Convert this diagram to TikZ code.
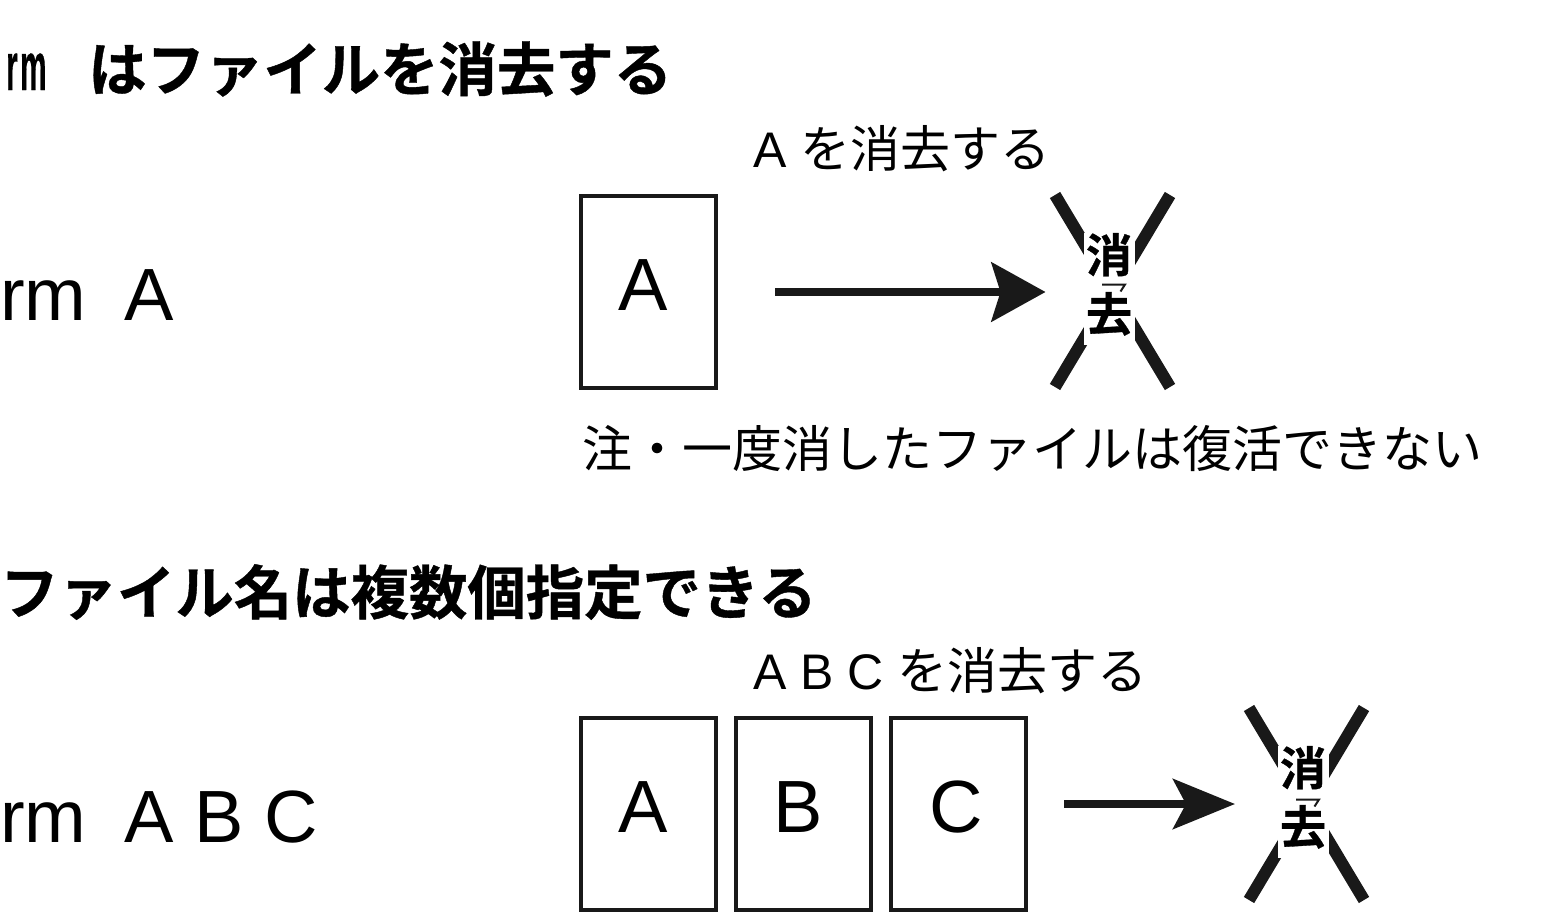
\documentclass[tikz,border=0pt]{standalone}
\usepackage{graphicx}
\usepackage{fontspec}
\setmainfont{Liberation Sans}
\newfontfamily\cjk{Noto Sans CJK JP}
\newfontfamily\cjkb{Noto Sans CJK JP Bold}[FakeBold=0.7]
\newfontfamily\rmbold{Liberation Sans Bold}[FakeBold=0.4]
\usetikzlibrary{arrows.meta}
\usetikzlibrary{positioning}
\begin{document}
\begin{tikzpicture}[x=1pt,y=-1pt,
	filebox/.style={draw=black!90, line width=4pt, minimum width=135pt, minimum height=192pt, inner sep=0pt},
	filetext/.style={inner sep=0pt, font=\fontsize{74}{74}\selectfont},
	cmdtext/.style={anchor=west, inner sep=0pt, font=\fontsize{74}{74}\selectfont},
	head/.style={anchor=west, inner sep=0pt, font=\cjkb\fontsize{58.4}{59}\selectfont},
	note/.style={anchor=west, inner sep=0pt, font=\cjk\fontsize{50}{50}\selectfont},
	xbar/.style={draw=black!90, line width=12pt},
	xlabel/.style={inner sep=0pt, fill=white, minimum width=51pt, minimum height=108pt, font=\cjkb\fontsize{46}{46}\selectfont},
	xmark/.style={draw=black!90, line width=2pt},
	myarrow/.style={draw=black!90, line width=8pt, -{Stealth[length=54pt,width=59pt,inset=9pt]}},
	myarrowb/.style={draw=black!90, line width=8pt, -{Stealth[length=62pt,width=50pt,inset=13pt]}}]
	\useasboundingbox (0,0) rectangle (1545,913);
	\node[anchor=base west, inner sep=0pt] (title1cmd) at (6,90) {\scalebox{.44}[1]{\rmbold\fontsize{68}{68}\selectfont r\hspace{5pt}m}};
	\node[head] (title1) at (88,69) {はファイルを消去する};
	\node[cmdtext] (cmd1) at (0,295) {rm\hspace{38pt}A};
	\node[filebox] (a1) at (648.5,291.5) {};
	\node[filetext] (a1text) at (643,285) {A};
	\node[note] (msg1) at (753,149) {{\rmfamily A}\hspace{3pt} を消去する};
	\node[note] (warn) at (582,449) {注・一度消したファイルは復活できない};
	\coordinate (from1) at (775,292);
	\coordinate (to1) at (1045.5,292);
	\draw[myarrow] (from1) -- (to1);
	\coordinate (p1) at (1055,195);
	\coordinate (p2) at (1170,195);
	\coordinate (p3) at (1055,387);
	\coordinate (p4) at (1170,387);
	\draw[xbar] (p1) -- (p4);
	\draw[xbar] (p2) -- (p3);
	\node[xlabel] (del1) at (1109,289) {\begin{tabular}{@{}c@{}}消\\[6pt]去\end{tabular}};
	\draw[xmark] (1102,284.5) -- (1125,284.5) -- (1120.5,291.5);
	\node[head] (title2) at (0,592) {ファイル名は複数個指定できる};
	\node[cmdtext] (cmd2) at (0,817) {rm\hspace{38pt}A B C};
	\node[filebox] (a2) at (648.5,813.5) {};
	\node[filebox] (b2) at (803.5,813.5) {};
	\node[filebox] (c2) at (958.5,813.5) {};
	\node[filetext] (a2text) at (643,807) {A};
	\node[filetext] (b2text) at (798,807) {B};
	\node[filetext] (c2text) at (956,807) {C};
	\node[note] (msg2) at (753,671) {{\rmfamily A B C}\hspace{3pt} を消去する};
	\coordinate (from2) at (1064,804);
	\coordinate (to2) at (1235,804);
	\draw[myarrowb] (from2) -- (to2);
	\coordinate (q1) at (1249,708);
	\coordinate (q2) at (1364,708);
	\coordinate (q3) at (1249,900);
	\coordinate (q4) at (1364,900);
	\draw[xbar] (q1) -- (q4);
	\draw[xbar] (q2) -- (q3);
	\node[xlabel] (del2) at (1303,802) {\begin{tabular}{@{}c@{}}消\\[6pt]去\end{tabular}};
	\draw[xmark] (1296,799.5) -- (1319,799.5) -- (1314.5,806.5);
\end{tikzpicture}
\end{document}
